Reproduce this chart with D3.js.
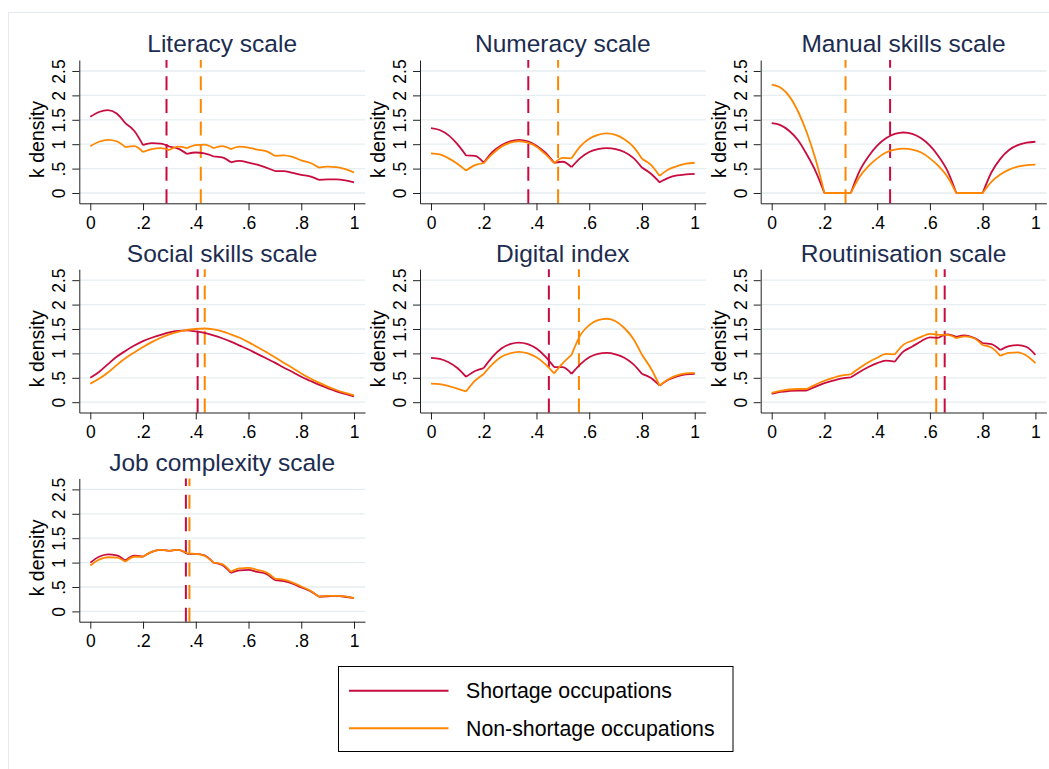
<!DOCTYPE html>
<html>
<head>
<meta charset="utf-8">
<script src="https://cdn.jsdelivr.net/npm/d3@7"></script>
<style>
  body { margin: 0; background: #fff; }
  text { font-family: "Liberation Sans", Arial, sans-serif; }
</style>
</head>
<body>
<div id="chart"></div>
<script>
// panel titles and groups
const titles = ["Literacy scale", "Numeracy scale", "Manual skills scale",
  "Social skills scale", "Digital index", "Routinisation scale", "Job complexity scale"];
const groups = ["Shortage occupations", "Non-shortage occupations"];

// evaluation grid of the densities (x)
const gridX = [0, .033, .067, .1, .133, .167, .2, .233, .267, .3, .333, .367, .4, .433, .467,
  .5, .533, .567, .6, .633, .667, .7, .733, .767, .8, .833, .867, .9, .933, .967, 1];

const xTicks = [0, .2, .4, .6, .8, 1];
const xTickLabels = ["0", ".2", ".4", ".6", ".8", "1"];
const yTicks = [0, .5, 1, 1.5, 2, 2.5];
const yTickLabels = ["0", ".5", "1", "1.5", "2", "2.5"];

// k density, shortage occupations
const shortLiteracy = [1.56,1.66,1.70,1.63,1.43,1.27,0.98,1.02,1.01,0.95,0.91,0.80,0.83,0.81,0.75,0.73,0.63,0.66,0.62,0.58,0.52,0.45,0.45,0.41,0.37,0.34,0.27,0.28,0.28,0.26,0.22];
const shortNumeracy = [1.33,1.29,1.18,1.00,0.77,0.76,0.62,0.84,0.98,1.06,1.09,1.06,0.97,0.83,0.62,0.64,0.53,0.72,0.84,0.90,0.92,0.90,0.84,0.72,0.52,0.40,0.22,0.31,0.36,0.38,0.39];
const shortManual = [1.43,1.39,1.27,1.08,0.79,0.44,0,0,0,0,0.45,0.75,0.97,1.12,1.21,1.24,1.21,1.12,0.97,0.75,0.45,0,0,0,0,0.42,0.70,0.88,0.98,1.03,1.05];
const shortSocial = [0.50,0.62,0.78,0.93,1.05,1.16,1.25,1.32,1.38,1.43,1.46,1.47,1.45,1.42,1.37,1.31,1.24,1.16,1.08,0.99,0.90,0.81,0.71,0.62,0.52,0.44,0.36,0.29,0.22,0.17,0.12];
const shortDigital = [0.91,0.89,0.82,0.70,0.52,0.64,0.70,0.93,1.10,1.19,1.22,1.19,1.10,0.94,0.72,0.72,0.58,0.78,0.92,0.99,1.01,0.98,0.91,0.78,0.58,0.50,0.34,0.46,0.53,0.57,0.58];
const shortRoutine = [0.17,0.21,0.23,0.24,0.24,0.32,0.39,0.44,0.49,0.51,0.62,0.72,0.80,0.85,0.83,1.04,1.14,1.25,1.33,1.32,1.39,1.34,1.37,1.32,1.21,1.19,1.07,1.15,1.17,1.13,0.97];
const shortComplex = [1.00,1.12,1.17,1.15,1.04,1.14,1.12,1.22,1.26,1.24,1.26,1.18,1.18,1.15,1.00,0.95,0.79,0.84,0.85,0.81,0.77,0.64,0.62,0.57,0.49,0.42,0.30,0.31,0.32,0.30,0.27];

// k density, non-shortage occupations
const nonLiteracy = [0.96,1.05,1.09,1.06,0.94,0.96,0.84,0.90,0.92,0.88,0.95,0.92,0.98,0.99,0.92,0.96,0.90,0.95,0.93,0.89,0.86,0.76,0.77,0.74,0.67,0.62,0.52,0.54,0.53,0.49,0.42];
const nonNumeracy = [0.81,0.79,0.71,0.60,0.46,0.57,0.61,0.80,0.95,1.03,1.06,1.03,0.95,0.80,0.61,0.72,0.71,0.96,1.11,1.19,1.22,1.19,1.10,0.95,0.70,0.58,0.35,0.48,0.55,0.60,0.62];
const nonManual = [2.22,2.16,1.98,1.67,1.24,0.68,0,0,0,0,0.33,0.55,0.71,0.83,0.89,0.91,0.89,0.83,0.71,0.55,0.33,0,0,0,0,0.23,0.38,0.48,0.54,0.57,0.58];
const nonSocial = [0.38,0.48,0.61,0.76,0.90,1.02,1.13,1.23,1.32,1.39,1.44,1.48,1.50,1.51,1.49,1.45,1.39,1.32,1.23,1.13,1.03,0.92,0.81,0.70,0.59,0.49,0.40,0.32,0.25,0.19,0.14];
const nonDigital = [0.38,0.37,0.33,0.28,0.22,0.44,0.58,0.78,0.93,1.00,1.03,1.00,0.92,0.78,0.59,0.80,0.97,1.38,1.58,1.68,1.71,1.66,1.52,1.30,0.97,0.70,0.34,0.47,0.55,0.59,0.60];
const nonRoutine = [0.19,0.23,0.26,0.27,0.27,0.36,0.44,0.50,0.55,0.57,0.70,0.82,0.91,0.99,0.98,1.18,1.26,1.34,1.40,1.38,1.38,1.31,1.35,1.31,1.17,1.12,0.95,1.01,1.02,0.95,0.80];
const nonComplex = [0.94,1.06,1.11,1.10,1.02,1.12,1.12,1.22,1.26,1.24,1.26,1.19,1.18,1.14,1.00,0.97,0.81,0.88,0.89,0.85,0.80,0.67,0.65,0.59,0.51,0.43,0.30,0.32,0.32,0.31,0.27];

// group means (dashed lines)
const meanShort = [0.289, 0.369, 0.449, 0.407, 0.447, 0.656, 0.3625];
const meanNon = [0.419, 0.482, 0.280, 0.434, 0.561, 0.624, 0.376];

// grid indexes where the densities have corners
const kinks = [
  [4, 6, 9, 11, 14, 16, 21, 26],
  [4, 6, 14, 16, 24, 26],
  [6, 9, 21, 24],
  [],
  [4, 6, 14, 16, 24, 26],
  [4, 9, 14, 19, 21, 24, 26],
  [4, 6, 9, 11, 14, 16, 21, 26]
];

const shortSeries = [shortLiteracy, shortNumeracy, shortManual, shortSocial, shortDigital, shortRoutine, shortComplex];
const nonSeries = [nonLiteracy, nonNumeracy, nonManual, nonSocial, nonDigital, nonRoutine, nonComplex];

const colors = ["#c80c3f", "#ff8700"];
const width = 1049, height = 769;

const svg = d3.select("#chart").append("svg")
  .attr("width", width)
  .attr("height", height);

// outer graph region frame
svg.append("rect")
  .attr("x", 8.5).attr("y", 12.5)
  .attr("width", 1100).attr("height", 800)
  .attr("fill", "#fff")
  .attr("stroke", "#e3e9ee");

const plotW = 285.7, plotH = 143.3;

const line = d3.line()
  .x(d => d[0])
  .y(d => d[1])
  .curve(d3.curveMonotoneX);

titles.forEach((title, i) => {
  const col = i % 3, row = Math.floor(i / 3);
  const left = 79.3 + col * 340.7;
  const top = 60 + row * 209.2;

  const x = d3.scaleLinear().domain([-0.0417, 1.0417]).range([left, left + plotW]);
  const y = d3.scaleLinear().domain([-0.211, 2.725]).range([top + plotH, top]);

  const g = svg.append("g");

  // gridlines
  g.append("g")
    .selectAll("line")
    .data(yTicks)
    .join("line")
    .attr("x1", left)
    .attr("x2", left + plotW)
    .attr("y1", d => y(d))
    .attr("y2", d => y(d))
    .attr("stroke", "#e6edf1")
    .attr("stroke-width", 1.3);

  // dashed mean lines, drawn from the bottom up
  const means = [meanShort[i], meanNon[i]];
  g.append("g")
    .selectAll("line")
    .data(means)
    .join("line")
    .attr("x1", d => x(d))
    .attr("x2", d => x(d))
    .attr("y1", top + plotH)
    .attr("y2", top)
    .attr("stroke", (d, k) => colors[k])
    .attr("stroke-width", 2)
    .attr("stroke-dasharray", "14,8.6");

  // density curves, one segment between each pair of corners
  [shortSeries[i], nonSeries[i]].forEach((vals, k) => {
    const breaks = [0, ...kinks[i], gridX.length - 1];
    let d = "";
    for (let b = 0; b < breaks.length - 1; b++) {
      const pts = [];
      for (let j = breaks[b]; j <= breaks[b + 1]; j++) pts.push([x(gridX[j]), y(vals[j])]);
      d += line(pts);
    }
    g.append("path")
      .attr("d", d)
      .attr("fill", "none")
      .attr("stroke", colors[k])
      .attr("stroke-width", 1.8)
      .attr("stroke-linejoin", "round");
  });

  // y axis
  const yAxis = g.append("g")
    .attr("transform", `translate(${left},0)`)
    .call(d3.axisLeft(y)
      .tickValues(yTicks)
      .tickFormat((d, k) => yTickLabels[k])
      .tickSize(7)
      .tickSizeOuter(0));
  yAxis.select(".domain").attr("stroke", "#222");
  yAxis.selectAll(".tick line").attr("stroke", "#222");
  yAxis.selectAll(".tick text")
    .attr("transform", "rotate(-90)")
    .attr("x", 0)
    .attr("y", -14)
    .attr("dy", 0)
    .attr("text-anchor", "middle")
    .attr("fill", "#000")
    .style("font-size", "17.5px")
    .style("font-family", "'Liberation Sans', Arial, sans-serif");

  // x axis
  const xAxis = g.append("g")
    .attr("transform", `translate(0,${top + plotH})`)
    .call(d3.axisBottom(x)
      .tickValues(xTicks)
      .tickFormat((d, k) => xTickLabels[k])
      .tickSize(7)
      .tickSizeOuter(0)
      .tickPadding(6));
  xAxis.select(".domain").attr("stroke", "#222");
  xAxis.selectAll(".tick line").attr("stroke", "#222");
  xAxis.selectAll(".tick text")
    .attr("fill", "#000")
    .style("font-size", "17.5px")
    .style("font-family", "'Liberation Sans', Arial, sans-serif");

  // axis title
  g.append("text")
    .attr("transform", `translate(${left - 35},${top + 79.5}) rotate(-90)`)
    .attr("text-anchor", "middle")
    .style("font-size", "19.5px")
    .attr("fill", "#000")
    .text("k density");

  // panel title
  g.append("text")
    .attr("x", left + plotW / 2)
    .attr("y", top - 7.7)
    .attr("text-anchor", "middle")
    .style("font-size", "24.5px")
    .attr("fill", "#1c2c50")
    .text(title);
});

// legend
const legend = svg.append("g");
legend.append("rect")
  .attr("x", 338.5).attr("y", 666.5)
  .attr("width", 394.5).attr("height", 85)
  .attr("fill", "#fff")
  .attr("stroke", "#000")
  .attr("stroke-width", 1);

const legY = d3.scalePoint().domain(groups).range([690.7, 728.3]);
const items = legend.selectAll("g.item")
  .data(groups)
  .join("g")
  .attr("class", "item");
items.append("line")
  .attr("x1", 349).attr("x2", 448.5)
  .attr("y1", d => legY(d)).attr("y2", d => legY(d))
  .attr("stroke", (d, k) => colors[k])
  .attr("stroke-width", 2);
items.append("text")
  .attr("x", 466)
  .attr("y", d => legY(d) + 7.6)
  .style("font-size", "21.3px")
  .attr("fill", "#000")
  .text(d => d);
</script>
</body>
</html>
